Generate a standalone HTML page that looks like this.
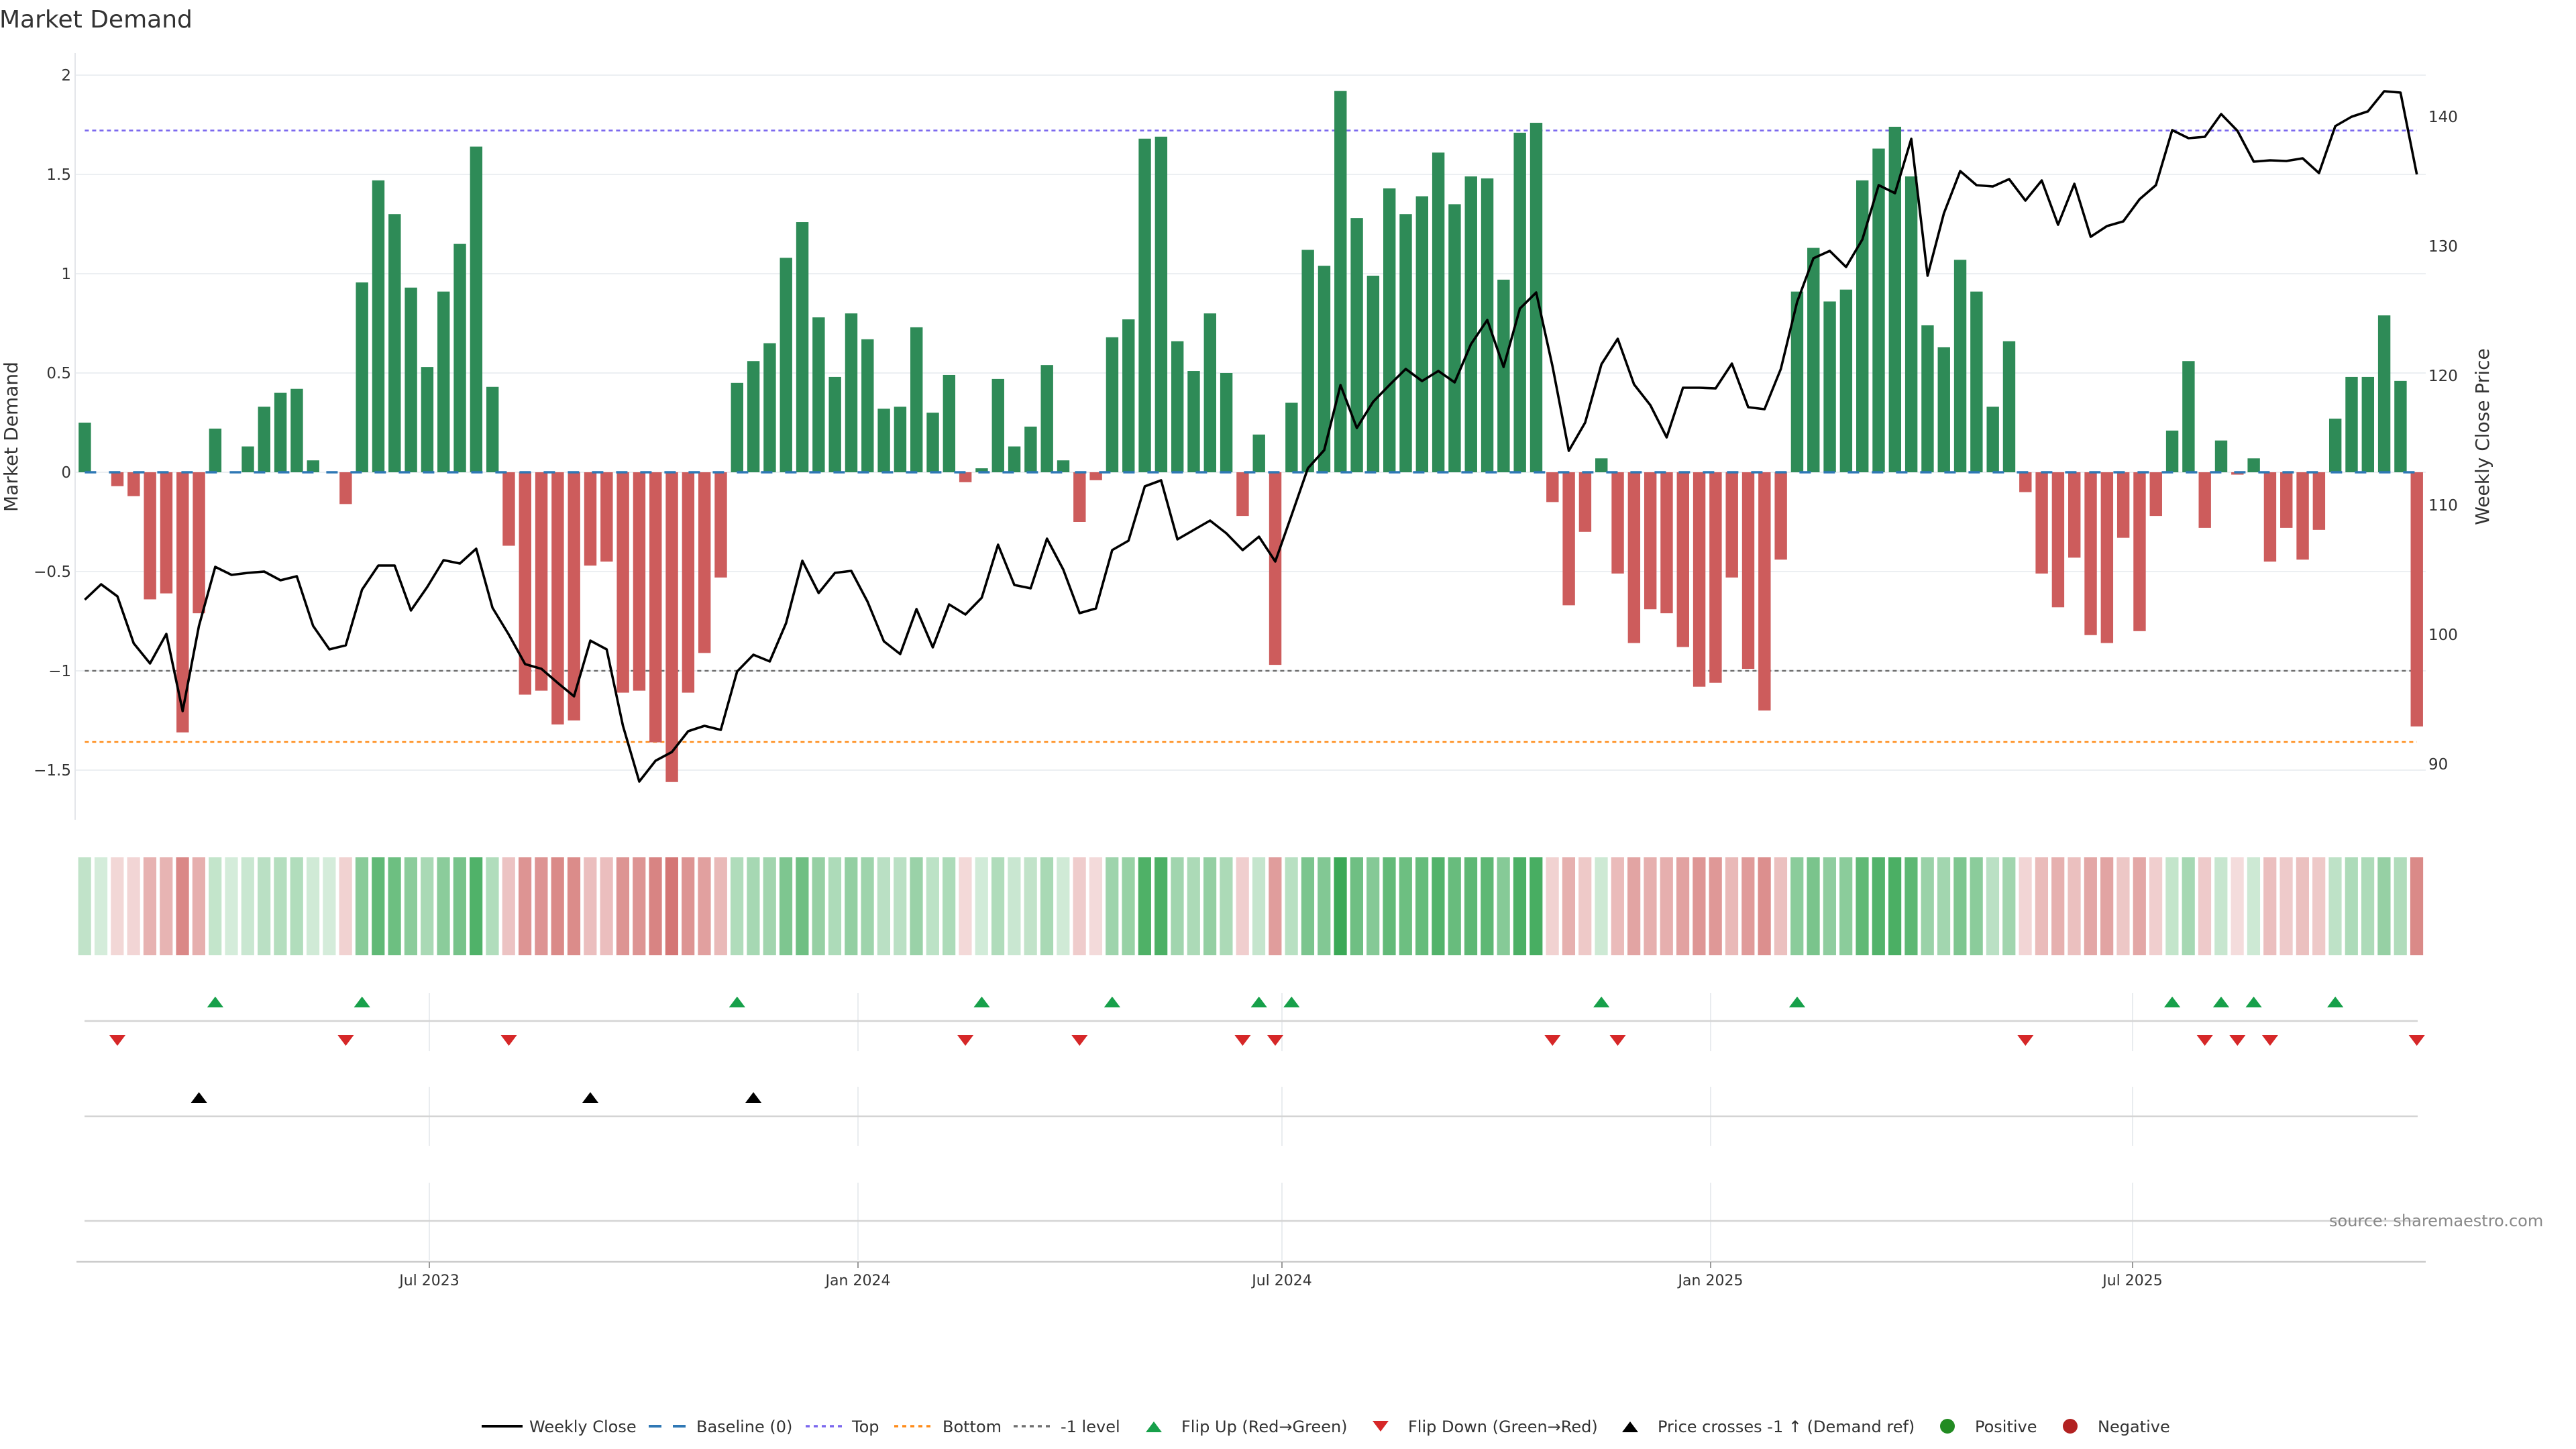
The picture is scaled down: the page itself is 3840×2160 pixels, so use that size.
<!DOCTYPE html>
<html><head><meta charset="utf-8"><style>
html,body{margin:0;padding:0;background:#fff;}
body{width:3840px;height:2160px;overflow:hidden;}
svg{display:block;font-family:"DejaVu Sans","Liberation Sans",sans-serif;}
.hg{fill:#28a046}.hr{fill:#c8504e}
.tk{font-size:23px;fill:#333}
.lg{font-size:24px;fill:#333}
</style></head><body>
<svg width="3840" height="2160" viewBox="0 0 3840 2160" xmlns="http://www.w3.org/2000/svg">
<defs>
<path id="tu" d="M-12 0h24l-12-16z"/>
<path id="td" d="M-12 0h24l-12 16z"/>
</defs>
<rect width="3840" height="2160" fill="#fff"/>
<text x="-1" y="41" font-size="36" fill="#333">Market Demand</text>

<!-- gridlines -->
<g stroke="#eceff2" stroke-width="2">
<line x1="112" x2="3616" y1="112" y2="112"/><line x1="112" x2="3616" y1="260" y2="260"/>
<line x1="112" x2="3616" y1="408" y2="408"/><line x1="112" x2="3616" y1="556" y2="556"/>
<line x1="112" x2="3616" y1="704" y2="704"/><line x1="112" x2="3616" y1="852" y2="852"/>
<line x1="112" x2="3616" y1="1000" y2="1000"/><line x1="112" x2="3616" y1="1148" y2="1148"/>
</g>
<line x1="112" x2="112" y1="79" y2="1222" stroke="#e4e6ea" stroke-width="2"/>

<!-- left ticks -->
<g class="tk" text-anchor="end">
<text x="106" y="120">2</text><text x="106" y="268">1.5</text><text x="106" y="416">1</text>
<text x="106" y="564">0.5</text><text x="106" y="712">0</text><text x="106" y="860">−0.5</text>
<text x="106" y="1008">−1</text><text x="106" y="1156">−1.5</text>
</g>
<!-- right ticks -->
<g class="tk">
<text x="3620" y="182">140</text><text x="3620" y="375">130</text><text x="3620" y="568">120</text>
<text x="3620" y="761">110</text><text x="3620" y="954">100</text><text x="3620" y="1147">90</text>
</g>
<text transform="translate(26,651) rotate(-90)" text-anchor="middle" font-size="28" fill="#333">Market Demand</text>
<text transform="translate(3710,651) rotate(-90)" text-anchor="middle" font-size="28" fill="#333">Weekly Close Price</text>

<!-- reference lines -->
<g stroke-width="2.6" stroke-dasharray="6 5" fill="none">
<line x1="126.4" x2="3602.7" y1="194.6" y2="194.6" stroke="#7b68ee"/>
<line x1="126.4" x2="3602.7" y1="1000" y2="1000" stroke="#707070"/>
<line x1="126.4" x2="3602.7" y1="1106" y2="1106" stroke="#ff8c1a"/>
</g>

<!-- bars -->
<g transform="translate(117.2,704) scale(24.31,-296)">
<g fill="#2e8b57">
<rect x="0" width=".757" height=".25"/><rect x="8" width=".757" height=".22"/><rect x="10" width=".757" height=".13"/><rect x="11" width=".757" height=".33"/><rect x="12" width=".757" height=".40"/><rect x="13" width=".757" height=".42"/><rect x="14" width=".757" height=".06"/>
<rect x="17" width=".757" height=".956"/><rect x="18" width=".757" height="1.47"/><rect x="19" width=".757" height="1.30"/><rect x="20" width=".757" height=".93"/><rect x="21" width=".757" height=".53"/><rect x="22" width=".757" height=".91"/><rect x="23" width=".757" height="1.15"/><rect x="24" width=".757" height="1.64"/><rect x="25" width=".757" height=".43"/>
<rect x="40" width=".757" height=".45"/><rect x="41" width=".757" height=".56"/><rect x="42" width=".757" height=".65"/><rect x="43" width=".757" height="1.08"/><rect x="44" width=".757" height="1.26"/><rect x="45" width=".757" height=".78"/><rect x="46" width=".757" height=".48"/><rect x="47" width=".757" height=".80"/><rect x="48" width=".757" height=".67"/><rect x="49" width=".757" height=".32"/><rect x="50" width=".757" height=".33"/><rect x="51" width=".757" height=".73"/><rect x="52" width=".757" height=".30"/><rect x="53" width=".757" height=".49"/>
<rect x="55" width=".757" height=".02"/><rect x="56" width=".757" height=".47"/><rect x="57" width=".757" height=".13"/><rect x="58" width=".757" height=".23"/><rect x="59" width=".757" height=".54"/><rect x="60" width=".757" height=".06"/>
<rect x="63" width=".757" height=".68"/><rect x="64" width=".757" height=".77"/><rect x="65" width=".757" height="1.68"/><rect x="66" width=".757" height="1.69"/><rect x="67" width=".757" height=".66"/><rect x="68" width=".757" height=".51"/><rect x="69" width=".757" height=".80"/><rect x="70" width=".757" height=".50"/>
<rect x="72" width=".757" height=".19"/><rect x="74" width=".757" height=".35"/><rect x="75" width=".757" height="1.12"/><rect x="76" width=".757" height="1.04"/><rect x="77" width=".757" height="1.92"/><rect x="78" width=".757" height="1.28"/><rect x="79" width=".757" height=".99"/><rect x="80" width=".757" height="1.43"/><rect x="81" width=".757" height="1.30"/><rect x="82" width=".757" height="1.39"/><rect x="83" width=".757" height="1.61"/><rect x="84" width=".757" height="1.35"/><rect x="85" width=".757" height="1.49"/><rect x="86" width=".757" height="1.48"/><rect x="87" width=".757" height=".97"/><rect x="88" width=".757" height="1.71"/><rect x="89" width=".757" height="1.76"/>
<rect x="93" width=".757" height=".07"/>
<rect x="105" width=".757" height=".91"/><rect x="106" width=".757" height="1.13"/><rect x="107" width=".757" height=".86"/><rect x="108" width=".757" height=".92"/><rect x="109" width=".757" height="1.47"/><rect x="110" width=".757" height="1.63"/><rect x="111" width=".757" height="1.74"/><rect x="112" width=".757" height="1.49"/><rect x="113" width=".757" height=".74"/><rect x="114" width=".757" height=".63"/><rect x="115" width=".757" height="1.07"/><rect x="116" width=".757" height=".91"/><rect x="117" width=".757" height=".33"/><rect x="118" width=".757" height=".66"/>
<rect x="128" width=".757" height=".21"/><rect x="129" width=".757" height=".56"/><rect x="131" width=".757" height=".16"/><rect x="133" width=".757" height=".07"/>
<rect x="138" width=".757" height=".27"/><rect x="139" width=".757" height=".48"/><rect x="140" width=".757" height=".48"/><rect x="141" width=".757" height=".79"/><rect x="142" width=".757" height=".46"/>
</g>
<g fill="#cd5c5c">
<rect x="2" y="-.07" width=".757" height=".07"/><rect x="3" y="-.12" width=".757" height=".12"/><rect x="4" y="-.64" width=".757" height=".64"/><rect x="5" y="-.61" width=".757" height=".61"/><rect x="6" y="-1.31" width=".757" height="1.31"/><rect x="7" y="-.71" width=".757" height=".71"/>
<rect x="16" y="-.16" width=".757" height=".16"/>
<rect x="26" y="-.37" width=".757" height=".37"/><rect x="27" y="-1.12" width=".757" height="1.12"/><rect x="28" y="-1.10" width=".757" height="1.10"/><rect x="29" y="-1.27" width=".757" height="1.27"/><rect x="30" y="-1.25" width=".757" height="1.25"/><rect x="31" y="-.47" width=".757" height=".47"/><rect x="32" y="-.45" width=".757" height=".45"/><rect x="33" y="-1.11" width=".757" height="1.11"/><rect x="34" y="-1.10" width=".757" height="1.10"/><rect x="35" y="-1.36" width=".757" height="1.36"/><rect x="36" y="-1.56" width=".757" height="1.56"/><rect x="37" y="-1.11" width=".757" height="1.11"/><rect x="38" y="-.91" width=".757" height=".91"/><rect x="39" y="-.53" width=".757" height=".53"/>
<rect x="54" y="-.05" width=".757" height=".05"/><rect x="61" y="-.25" width=".757" height=".25"/><rect x="62" y="-.04" width=".757" height=".04"/><rect x="71" y="-.22" width=".757" height=".22"/><rect x="73" y="-.97" width=".757" height=".97"/>
<rect x="90" y="-.15" width=".757" height=".15"/><rect x="91" y="-.67" width=".757" height=".67"/><rect x="92" y="-.30" width=".757" height=".30"/>
<rect x="94" y="-.51" width=".757" height=".51"/><rect x="95" y="-.86" width=".757" height=".86"/><rect x="96" y="-.69" width=".757" height=".69"/><rect x="97" y="-.71" width=".757" height=".71"/><rect x="98" y="-.88" width=".757" height=".88"/><rect x="99" y="-1.08" width=".757" height="1.08"/><rect x="100" y="-1.06" width=".757" height="1.06"/><rect x="101" y="-.53" width=".757" height=".53"/><rect x="102" y="-.99" width=".757" height=".99"/><rect x="103" y="-1.20" width=".757" height="1.20"/><rect x="104" y="-.44" width=".757" height=".44"/>
<rect x="119" y="-.10" width=".757" height=".10"/><rect x="120" y="-.51" width=".757" height=".51"/><rect x="121" y="-.68" width=".757" height=".68"/><rect x="122" y="-.43" width=".757" height=".43"/><rect x="123" y="-.82" width=".757" height=".82"/><rect x="124" y="-.86" width=".757" height=".86"/><rect x="125" y="-.33" width=".757" height=".33"/><rect x="126" y="-.80" width=".757" height=".80"/><rect x="127" y="-.22" width=".757" height=".22"/>
<rect x="130" y="-.28" width=".757" height=".28"/><rect x="132" y="-.012" width=".757" height=".012"/><rect x="134" y="-.45" width=".757" height=".45"/><rect x="135" y="-.28" width=".757" height=".28"/><rect x="136" y="-.44" width=".757" height=".44"/><rect x="137" y="-.29" width=".757" height=".29"/>
<rect x="143" y="-1.28" width=".757" height="1.28"/>
</g>
</g>

<!-- baseline -->
<line x1="126.4" x2="3602.7" y1="704" y2="704" stroke="#2f78b5" stroke-width="3.5" stroke-dasharray="17 19"/>

<!-- price line -->
<polyline transform="translate(126.4,0) scale(24.31,1)" vector-effect="non-scaling-stroke" fill="none" stroke="#000" stroke-width="3.6" stroke-linejoin="round"
points="0,894 1,871 2,889 3,959 4,989 5,945 6,1060 7,933 8,845 9,857 10,854 11,852 12,865 13,859 14,933 15,968 16,962 17,879 18,843 19,843 20,910 21,875 22,835 23,840 24,818 25,906 26,946 27,990 28,997 29,1018 30,1038 31,955 32,968 33,1082 34,1165 35,1134 36,1121 37,1090 38,1082 39,1088 40,1001 41,976 42,986 43,929 44,836 45,884 46,854 47,851 48,897 49,956 50,975 51,908 52,965 53,901 54,916 55,891 56,812 57,872 58,877 59,803 60,849 61,914 62,907 63,820 64,806 65,725 66,716 67,804 68,790 69,776 70,795 71,820 72,800 73,837 74,768 75,698 76,671 77,574 78,638 79,599 80,574 81,550 82,568 83,553 84,570 85,513 86,477 87,547 88,460 89,436 90,546 91,672 92,630 93,543 94,505 95,573 96,604 97,652 98,578 99,578 100,579 101,542 102,607 103,610 104,550 105,450 106,385 107,374 108,398 109,357 110,276 111,288 112,207 113,411 114,318 115,255 116,276 117,278 118,267 119,299 120,269 121,335 122,274 123,353 124,337 125,330 126,297 127,276 128,194 129,206 130,204 131,170 132,195 133,241 134,239 135,240 136,236 137,258 138,188 139,174 140,166 141,136 142,138 143,260"/>

<!-- heatmap -->
<g transform="translate(116.6,1278) scale(24.31,1)">
<rect class="hg" x="0" width=".79" height="146" fill-opacity=".29"/><rect class="hg" x="1" width=".79" height="146" fill-opacity=".2"/><rect class="hr" x="2" width=".79" height="146" fill-opacity=".23"/><rect class="hr" x="3" width=".79" height="146" fill-opacity=".24"/><rect class="hr" x="4" width=".79" height="146" fill-opacity=".44"/><rect class="hr" x="5" width=".79" height="146" fill-opacity=".43"/><rect class="hr" x="6" width=".79" height="146" fill-opacity=".68"/><rect class="hr" x="7" width=".79" height="146" fill-opacity=".46"/>
<rect class="hg" x="8" width=".79" height="146" fill-opacity=".28"/><rect class="hg" x="9" width=".79" height="146" fill-opacity=".2"/><rect class="hg" x="10" width=".79" height="146" fill-opacity=".25"/><rect class="hg" x="11" width=".79" height="146" fill-opacity=".32"/><rect class="hg" x="12" width=".79" height="146" fill-opacity=".35"/><rect class="hg" x="13" width=".79" height="146" fill-opacity=".36"/><rect class="hg" x="14" width=".79" height="146" fill-opacity=".22"/><rect class="hg" x="15" width=".79" height="146" fill-opacity=".2"/>
<rect class="hr" x="16" width=".79" height="146" fill-opacity=".26"/><rect class="hg" x="17" width=".79" height="146" fill-opacity=".55"/><rect class="hg" x="18" width=".79" height="146" fill-opacity=".74"/><rect class="hg" x="19" width=".79" height="146" fill-opacity=".68"/><rect class="hg" x="20" width=".79" height="146" fill-opacity=".54"/><rect class="hg" x="21" width=".79" height="146" fill-opacity=".4"/><rect class="hg" x="22" width=".79" height="146" fill-opacity=".54"/><rect class="hg" x="23" width=".79" height="146" fill-opacity=".63"/><rect class="hg" x="24" width=".79" height="146" fill-opacity=".81"/><rect class="hg" x="25" width=".79" height="146" fill-opacity=".36"/>
<rect class="hr" x="26" width=".79" height="146" fill-opacity=".34"/><rect class="hr" x="27" width=".79" height="146" fill-opacity=".61"/><rect class="hr" x="28" width=".79" height="146" fill-opacity=".61"/><rect class="hr" x="29" width=".79" height="146" fill-opacity=".67"/><rect class="hr" x="30" width=".79" height="146" fill-opacity=".66"/><rect class="hr" x="31" width=".79" height="146" fill-opacity=".37"/><rect class="hr" x="32" width=".79" height="146" fill-opacity=".37"/><rect class="hr" x="33" width=".79" height="146" fill-opacity=".61"/><rect class="hr" x="34" width=".79" height="146" fill-opacity=".61"/><rect class="hr" x="35" width=".79" height="146" fill-opacity=".7"/><rect class="hr" x="36" width=".79" height="146" fill-opacity=".78"/><rect class="hr" x="37" width=".79" height="146" fill-opacity=".61"/><rect class="hr" x="38" width=".79" height="146" fill-opacity=".54"/><rect class="hr" x="39" width=".79" height="146" fill-opacity=".4"/>
<rect class="hg" x="40" width=".79" height="146" fill-opacity=".37"/><rect class="hg" x="41" width=".79" height="146" fill-opacity=".41"/><rect class="hg" x="42" width=".79" height="146" fill-opacity=".44"/><rect class="hg" x="43" width=".79" height="146" fill-opacity=".6"/><rect class="hg" x="44" width=".79" height="146" fill-opacity=".67"/><rect class="hg" x="45" width=".79" height="146" fill-opacity=".49"/><rect class="hg" x="46" width=".79" height="146" fill-opacity=".38"/><rect class="hg" x="47" width=".79" height="146" fill-opacity=".5"/><rect class="hg" x="48" width=".79" height="146" fill-opacity=".45"/><rect class="hg" x="49" width=".79" height="146" fill-opacity=".32"/><rect class="hg" x="50" width=".79" height="146" fill-opacity=".32"/><rect class="hg" x="51" width=".79" height="146" fill-opacity=".47"/><rect class="hg" x="52" width=".79" height="146" fill-opacity=".31"/><rect class="hg" x="53" width=".79" height="146" fill-opacity=".38"/>
<rect class="hr" x="54" width=".79" height="146" fill-opacity=".22"/><rect class="hg" x="55" width=".79" height="146" fill-opacity=".21"/><rect class="hg" x="56" width=".79" height="146" fill-opacity=".37"/><rect class="hg" x="57" width=".79" height="146" fill-opacity=".25"/><rect class="hg" x="58" width=".79" height="146" fill-opacity=".29"/><rect class="hg" x="59" width=".79" height="146" fill-opacity=".4"/><rect class="hg" x="60" width=".79" height="146" fill-opacity=".22"/><rect class="hr" x="61" width=".79" height="146" fill-opacity=".29"/><rect class="hr" x="62" width=".79" height="146" fill-opacity=".21"/>
<rect class="hg" x="63" width=".79" height="146" fill-opacity=".45"/><rect class="hg" x="64" width=".79" height="146" fill-opacity=".48"/><rect class="hg" x="65" width=".79" height="146" fill-opacity=".82"/><rect class="hg" x="66" width=".79" height="146" fill-opacity=".83"/><rect class="hg" x="67" width=".79" height="146" fill-opacity=".44"/><rect class="hg" x="68" width=".79" height="146" fill-opacity=".39"/><rect class="hg" x="69" width=".79" height="146" fill-opacity=".5"/><rect class="hg" x="70" width=".79" height="146" fill-opacity=".39"/>
<rect class="hr" x="71" width=".79" height="146" fill-opacity=".28"/><rect class="hg" x="72" width=".79" height="146" fill-opacity=".27"/><rect class="hr" x="73" width=".79" height="146" fill-opacity=".56"/><rect class="hg" x="74" width=".79" height="146" fill-opacity=".33"/><rect class="hg" x="75" width=".79" height="146" fill-opacity=".61"/><rect class="hg" x="76" width=".79" height="146" fill-opacity=".58"/><rect class="hg" x="77" width=".79" height="146" fill-opacity=".91"/><rect class="hg" x="78" width=".79" height="146" fill-opacity=".67"/><rect class="hg" x="79" width=".79" height="146" fill-opacity=".57"/><rect class="hg" x="80" width=".79" height="146" fill-opacity=".73"/><rect class="hg" x="81" width=".79" height="146" fill-opacity=".68"/><rect class="hg" x="82" width=".79" height="146" fill-opacity=".71"/><rect class="hg" x="83" width=".79" height="146" fill-opacity=".8"/><rect class="hg" x="84" width=".79" height="146" fill-opacity=".7"/><rect class="hg" x="85" width=".79" height="146" fill-opacity=".75"/><rect class="hg" x="86" width=".79" height="146" fill-opacity=".75"/><rect class="hg" x="87" width=".79" height="146" fill-opacity=".56"/><rect class="hg" x="88" width=".79" height="146" fill-opacity=".83"/><rect class="hg" x="89" width=".79" height="146" fill-opacity=".85"/>
<rect class="hr" x="90" width=".79" height="146" fill-opacity=".26"/><rect class="hr" x="91" width=".79" height="146" fill-opacity=".45"/><rect class="hr" x="92" width=".79" height="146" fill-opacity=".31"/><rect class="hg" x="93" width=".79" height="146" fill-opacity=".23"/><rect class="hr" x="94" width=".79" height="146" fill-opacity=".39"/><rect class="hr" x="95" width=".79" height="146" fill-opacity=".52"/><rect class="hr" x="96" width=".79" height="146" fill-opacity=".46"/><rect class="hr" x="97" width=".79" height="146" fill-opacity=".46"/><rect class="hr" x="98" width=".79" height="146" fill-opacity=".53"/><rect class="hr" x="99" width=".79" height="146" fill-opacity=".6"/><rect class="hr" x="100" width=".79" height="146" fill-opacity=".59"/><rect class="hr" x="101" width=".79" height="146" fill-opacity=".4"/><rect class="hr" x="102" width=".79" height="146" fill-opacity=".57"/><rect class="hr" x="103" width=".79" height="146" fill-opacity=".64"/><rect class="hr" x="104" width=".79" height="146" fill-opacity=".36"/>
<rect class="hg" x="105" width=".79" height="146" fill-opacity=".54"/><rect class="hg" x="106" width=".79" height="146" fill-opacity=".62"/><rect class="hg" x="107" width=".79" height="146" fill-opacity=".52"/><rect class="hg" x="108" width=".79" height="146" fill-opacity=".54"/><rect class="hg" x="109" width=".79" height="146" fill-opacity=".74"/><rect class="hg" x="110" width=".79" height="146" fill-opacity=".8"/><rect class="hg" x="111" width=".79" height="146" fill-opacity=".84"/><rect class="hg" x="112" width=".79" height="146" fill-opacity=".75"/><rect class="hg" x="113" width=".79" height="146" fill-opacity=".47"/><rect class="hg" x="114" width=".79" height="146" fill-opacity=".43"/><rect class="hg" x="115" width=".79" height="146" fill-opacity=".6"/><rect class="hg" x="116" width=".79" height="146" fill-opacity=".54"/><rect class="hg" x="117" width=".79" height="146" fill-opacity=".32"/><rect class="hg" x="118" width=".79" height="146" fill-opacity=".44"/>
<rect class="hr" x="119" width=".79" height="146" fill-opacity=".24"/><rect class="hr" x="120" width=".79" height="146" fill-opacity=".39"/><rect class="hr" x="121" width=".79" height="146" fill-opacity=".45"/><rect class="hr" x="122" width=".79" height="146" fill-opacity=".36"/><rect class="hr" x="123" width=".79" height="146" fill-opacity=".5"/><rect class="hr" x="124" width=".79" height="146" fill-opacity=".52"/><rect class="hr" x="125" width=".79" height="146" fill-opacity=".32"/><rect class="hr" x="126" width=".79" height="146" fill-opacity=".5"/><rect class="hr" x="127" width=".79" height="146" fill-opacity=".28"/>
<rect class="hg" x="128" width=".79" height="146" fill-opacity=".28"/><rect class="hg" x="129" width=".79" height="146" fill-opacity=".41"/><rect class="hr" x="130" width=".79" height="146" fill-opacity=".3"/><rect class="hg" x="131" width=".79" height="146" fill-opacity=".26"/><rect class="hr" x="132" width=".79" height="146" fill-opacity=".2"/><rect class="hg" x="133" width=".79" height="146" fill-opacity=".23"/><rect class="hr" x="134" width=".79" height="146" fill-opacity=".37"/><rect class="hr" x="135" width=".79" height="146" fill-opacity=".3"/><rect class="hr" x="136" width=".79" height="146" fill-opacity=".36"/><rect class="hr" x="137" width=".79" height="146" fill-opacity=".31"/>
<rect class="hg" x="138" width=".79" height="146" fill-opacity=".3"/><rect class="hg" x="139" width=".79" height="146" fill-opacity=".38"/><rect class="hg" x="140" width=".79" height="146" fill-opacity=".38"/><rect class="hg" x="141" width=".79" height="146" fill-opacity=".49"/><rect class="hg" x="142" width=".79" height="146" fill-opacity=".37"/><rect class="hr" x="143" width=".79" height="146" fill-opacity=".67"/>
</g>

<!-- lower rows grid -->
<g stroke="#e9ecef" stroke-width="2">
<line x1="640" x2="640" y1="1480" y2="1567"/><line x1="1279" x2="1279" y1="1480" y2="1567"/><line x1="1911" x2="1911" y1="1480" y2="1567"/><line x1="2550" x2="2550" y1="1480" y2="1567"/><line x1="3179" x2="3179" y1="1480" y2="1567"/>
<line x1="640" x2="640" y1="1620" y2="1708"/><line x1="1279" x2="1279" y1="1620" y2="1708"/><line x1="1911" x2="1911" y1="1620" y2="1708"/><line x1="2550" x2="2550" y1="1620" y2="1708"/><line x1="3179" x2="3179" y1="1620" y2="1708"/>
<line x1="640" x2="640" y1="1763" y2="1878"/><line x1="1279" x2="1279" y1="1763" y2="1878"/><line x1="1911" x2="1911" y1="1763" y2="1878"/><line x1="2550" x2="2550" y1="1763" y2="1878"/><line x1="3179" x2="3179" y1="1763" y2="1878"/>
</g>
<g stroke="#d4d4d4" stroke-width="2.5">
<line x1="126" x2="3604" y1="1522" y2="1522"/>
<line x1="126" x2="3604" y1="1664" y2="1664"/>
<line x1="126" x2="3604" y1="1820" y2="1820"/>
<line x1="114" x2="3616" y1="1881" y2="1881" stroke="#cccccc"/>
</g>
<g stroke="#999" stroke-width="2">
<line x1="640" x2="640" y1="1881" y2="1890"/><line x1="1279" x2="1279" y1="1881" y2="1890"/><line x1="1911" x2="1911" y1="1881" y2="1890"/><line x1="2550" x2="2550" y1="1881" y2="1890"/><line x1="3179" x2="3179" y1="1881" y2="1890"/>
</g>
<g font-size="22" fill="#333" text-anchor="middle">
<text x="640" y="1916">Jul 2023</text><text x="1279" y="1916">Jan 2024</text><text x="1911" y="1916">Jul 2024</text><text x="2550" y="1916">Jan 2025</text><text x="3179" y="1916">Jul 2025</text>
</g>

<!-- flip up markers -->
<g fill="#17a04a">
<use href="#tu" x="320.9" y="1501.5"/><use href="#tu" x="539.7" y="1501.5"/><use href="#tu" x="1098.8" y="1501.5"/><use href="#tu" x="1463.5" y="1501.5"/><use href="#tu" x="1657.9" y="1501.5"/><use href="#tu" x="1876.7" y="1501.5"/><use href="#tu" x="1925.3" y="1501.5"/><use href="#tu" x="2387.2" y="1501.5"/><use href="#tu" x="2679" y="1501.5"/><use href="#tu" x="3238.1" y="1501.5"/><use href="#tu" x="3311" y="1501.5"/><use href="#tu" x="3359.6" y="1501.5"/><use href="#tu" x="3481.2" y="1501.5"/>
</g>
<g fill="#d62728">
<use href="#td" x="175" y="1543"/><use href="#td" x="515.4" y="1543"/><use href="#td" x="758.5" y="1543"/><use href="#td" x="1439.1" y="1543"/><use href="#td" x="1609.3" y="1543"/><use href="#td" x="1852.4" y="1543"/><use href="#td" x="1901" y="1543"/><use href="#td" x="2314.3" y="1543"/><use href="#td" x="2411.5" y="1543"/><use href="#td" x="3019.3" y="1543"/><use href="#td" x="3286.7" y="1543"/><use href="#td" x="3335.3" y="1543"/><use href="#td" x="3383.9" y="1543"/><use href="#td" x="3602.7" y="1543"/>
</g>
<g fill="#000">
<use href="#tu" x="296.6" y="1644"/><use href="#tu" x="880" y="1644"/><use href="#tu" x="1123.1" y="1644"/>
</g>

<text x="3472" y="1828" font-size="24" fill="#888">source: sharemaestro.com</text>

<!-- legend -->
<line x1="718" x2="779" y1="2126" y2="2126" stroke="#000" stroke-width="4"/>
<text class="lg" x="789" y="2135">Weekly Close</text>
<line x1="967" x2="1022" y1="2126" y2="2126" stroke="#2f78b5" stroke-width="4" stroke-dasharray="19 17"/>
<text class="lg" x="1038" y="2135">Baseline (0)</text>
<line x1="1201" x2="1256" y1="2126" y2="2126" stroke="#7b68ee" stroke-width="3.5" stroke-dasharray="6 6"/>
<text class="lg" x="1270" y="2135">Top</text>
<line x1="1333" x2="1388" y1="2126" y2="2126" stroke="#ff8c1a" stroke-width="3.5" stroke-dasharray="6 6"/>
<text class="lg" x="1405" y="2135">Bottom</text>
<line x1="1511" x2="1567" y1="2126" y2="2126" stroke="#707070" stroke-width="3.5" stroke-dasharray="6 6"/>
<text class="lg" x="1581" y="2135">-1 level</text>
<use href="#tu" x="1720" y="2135" fill="#17a04a"/>
<text class="lg" x="1761" y="2135">Flip Up (Red→Green)</text>
<use href="#td" x="2058" y="2118" fill="#d62728"/>
<text class="lg" x="2099" y="2135">Flip Down (Green→Red)</text>
<use href="#tu" x="2430" y="2135" fill="#000"/>
<text class="lg" x="2471" y="2135">Price crosses -1 ↑ (Demand ref)</text>
<circle cx="2903" cy="2126" r="11" fill="#228b22"/>
<text class="lg" x="2944" y="2135">Positive</text>
<circle cx="3086" cy="2126" r="11" fill="#b22222"/>
<text class="lg" x="3127" y="2135">Negative</text>
</svg>
</body></html>
